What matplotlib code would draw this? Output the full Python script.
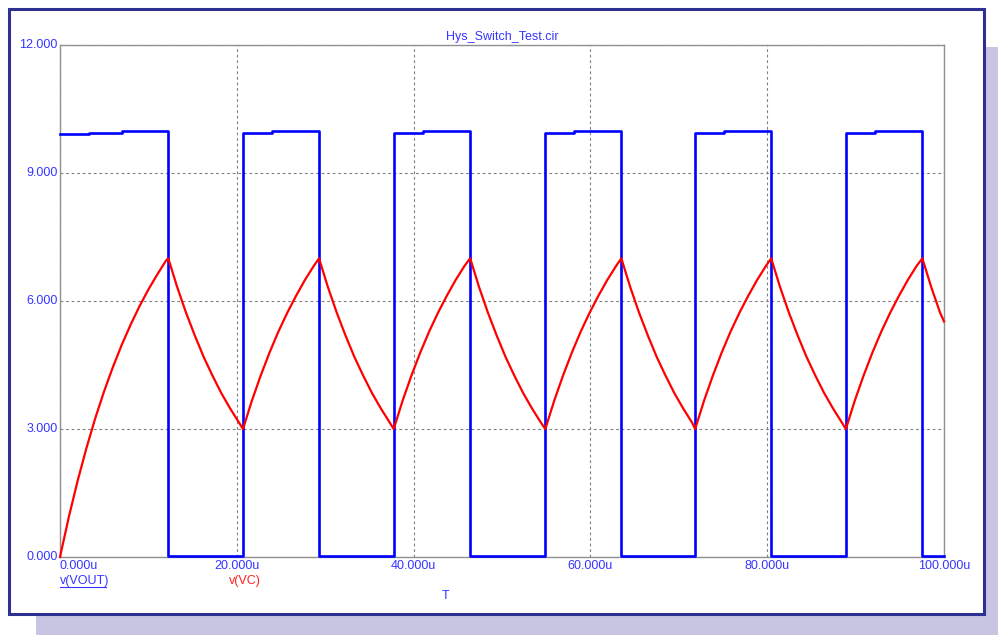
import matplotlib.pyplot as plt
import matplotlib.transforms as mtransforms
from matplotlib.patches import Rectangle
from matplotlib.lines import Line2D

# Dados (tempo em microssegundos, tensao em volts)
titulo = "Hys_Switch_Test.cir"
x_ticks = [0, 20, 40, 60, 80, 100]
x_tick_labels = ["0.000u", "20.000u", "40.000u", "60.000u", "80.000u", "100.000u"]
y_ticks = [0, 3, 6, 9, 12]
y_tick_labels = ["0.000", "3.000", "6.000", "9.000", "12.000"]

# v(VOUT): onda quadrada
vout_t = [0, 3.3, 3.3, 7.0, 7.0, 12.25, 12.25, 20.7,
          20.7, 24.0, 24.0, 29.3, 29.3, 37.75,
          37.75, 41.05, 41.05, 46.4, 46.4, 54.9,
          54.9, 58.2, 58.2, 63.5, 63.5, 71.85,
          71.85, 75.15, 75.15, 80.45, 80.45, 88.9,
          88.9, 92.2, 92.2, 97.55, 97.55, 100]
vout_v = [9.91, 9.91, 9.94, 9.94, 9.98, 9.98, 0.03, 0.03,
          9.94, 9.94, 9.98, 9.98, 0.03, 0.03,
          9.94, 9.94, 9.98, 9.98, 0.03, 0.03,
          9.94, 9.94, 9.98, 9.98, 0.03, 0.03,
          9.94, 9.94, 9.98, 9.98, 0.03, 0.03,
          9.94, 9.94, 9.98, 9.98, 0.03, 0.03]

# v(VC): carga e descarga do capacitor
vc_t = [0, 1, 2, 3, 4, 5, 6, 7, 8, 9, 10, 11, 12, 12.25,
        13.25, 14.25, 15.25, 16.25, 17.25, 18.25, 19.25, 20.25, 20.7,
        21.7, 22.7, 23.7, 24.7, 25.7, 26.7, 27.7, 28.7, 29.3,
        30.3, 31.3, 32.3, 33.3, 34.3, 35.3, 36.3, 37.3, 37.75,
        38.75, 39.75, 40.75, 41.75, 42.75, 43.75, 44.75, 45.75, 46.4,
        47.4, 48.4, 49.4, 50.4, 51.4, 52.4, 53.4, 54.4, 54.9,
        55.9, 56.9, 57.9, 58.9, 59.9, 60.9, 61.9, 62.9, 63.5,
        64.5, 65.5, 66.5, 67.5, 68.5, 69.5, 70.5, 71.5, 71.85,
        72.85, 73.85, 74.85, 75.85, 76.85, 77.85, 78.85, 79.85, 80.45,
        81.45, 82.45, 83.45, 84.45, 85.45, 86.45, 87.45, 88.45, 88.9,
        89.9, 90.9, 91.9, 92.9, 93.9, 94.9, 95.9, 96.9, 97.55,
        98.55, 99.55, 100]
vc_v = [0.0, 0.94, 1.79, 2.56, 3.26, 3.89, 4.46, 4.98, 5.45, 5.88, 6.27, 6.62, 6.95, 7.0,
        6.33, 5.73, 5.19, 4.69, 4.25, 3.84, 3.48, 3.15, 3.0,
        3.66, 4.25, 4.79, 5.28, 5.72, 6.12, 6.49, 6.82, 7.0,
        6.33, 5.73, 5.19, 4.69, 4.25, 3.84, 3.48, 3.15, 3.0,
        3.66, 4.25, 4.79, 5.28, 5.72, 6.12, 6.49, 6.82, 7.0,
        6.33, 5.73, 5.19, 4.69, 4.25, 3.84, 3.48, 3.15, 3.0,
        3.66, 4.25, 4.79, 5.28, 5.72, 6.12, 6.49, 6.82, 7.0,
        6.33, 5.73, 5.19, 4.69, 4.25, 3.84, 3.48, 3.15, 3.0,
        3.66, 4.25, 4.79, 5.28, 5.72, 6.12, 6.49, 6.82, 7.0,
        6.33, 5.73, 5.19, 4.69, 4.25, 3.84, 3.48, 3.15, 3.0,
        3.66, 4.25, 4.79, 5.28, 5.72, 6.12, 6.49, 6.82, 7.0,
        6.33, 5.73, 5.52]

W, H = 998, 635
plt.rcParams['font.family'] = ['Liberation Sans', 'DejaVu Sans']
fig = plt.figure(figsize=(W / 100, H / 100), dpi=100)
fig.patch.set_facecolor('white')


def fx(x):
    return x / W


def fy(y):
    return 1 - y / H


# sombra lilas e painel branco com borda azul (atras dos eixos)
fig.patches.append(Rectangle((fx(36), fy(635)), fx(998 - 36), (635 - 47) / H,
                             transform=fig.transFigure, facecolor='#c8c5e2',
                             edgecolor='none', zorder=-3))
fig.patches.append(Rectangle((fx(9), fy(614)), fx(984 - 9), (614 - 9) / H,
                             transform=fig.transFigure, facecolor='white',
                             edgecolor='#2e3192', linewidth=2.2, zorder=-2))

ax = fig.add_axes([fx(60), fy(557), fx(944 - 60), (557 - 45) / H])
ax.set_facecolor('none')
ax.set_xlim(0, 100)
ax.set_ylim(0, 12)
ax.set_xticks(x_ticks)
ax.set_yticks(y_ticks)
ax.tick_params(length=0, labelbottom=False, labelleft=False)
for s in ax.spines.values():
    s.set_color('#909090')
    s.set_linewidth(1.0)
ax.grid(True, color='#808080', linestyle=(0, (2.5, 2.5)), linewidth=0.8)

ax.plot(vout_t, vout_v, color='#0000ff', linewidth=1.9, clip_on=False, zorder=3)
ax.plot(vc_t, vc_v, color='#ff0000', linewidth=1.6, clip_on=False, zorder=4)

txt_blue = '#3535ff'
# rotulos dos eixos
for v, lab in zip(y_ticks, y_tick_labels):
    ax.text(-0.25, v, lab, ha='right', va='center', fontsize=9, color=txt_blue)
trans_x = mtransforms.blended_transform_factory(ax.transData, fig.transFigure)
for i, (t, lab) in enumerate(zip(x_ticks, x_tick_labels)):
    ax.text(t, fy(566), lab, transform=trans_x, ha='left' if i == 0 else 'center',
            va='center', fontsize=9, color=txt_blue, clip_on=False)

fig.text(fx(502), fy(37), titulo, ha='center', va='center', fontsize=9, color=txt_blue)
fig.text(fx(60), fy(581), "v(VOUT)", ha='left', va='center', fontsize=9, color=txt_blue)
fig.lines.append(Line2D([fx(60), fx(106)], [fy(587), fy(587)], transform=fig.transFigure,
                        color=txt_blue, linewidth=0.8))
fig.text(fx(229), fy(581), "v(VC)", ha='left', va='center', fontsize=9, color='#ff2020')
fig.text(fx(446), fy(596), "T", ha='center', va='center', fontsize=9, color=txt_blue)

plt.savefig("out.png", dpi=100)
